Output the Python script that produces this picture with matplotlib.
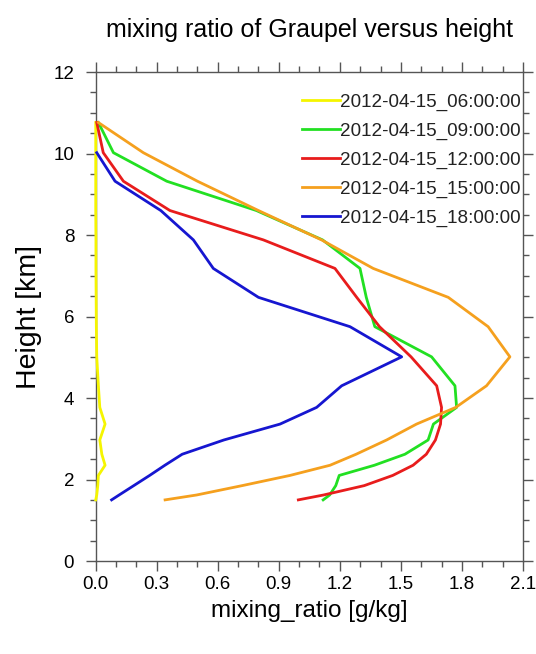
import numpy as np
import matplotlib
matplotlib.use('Agg')
import matplotlib.pyplot as plt
from matplotlib.ticker import MultipleLocator

plt.rcParams['font.family'] = ['Liberation Sans', 'DejaVu Sans']

# model levels [km] and graupel mixing ratio [g/kg]
height = [1.50, 1.62, 1.85, 2.10, 2.35, 2.62, 2.97, 3.36, 3.77, 4.30,
          5.01, 5.75, 6.47, 7.18, 7.88, 8.60, 9.32, 10.02, 10.76]

qg_06 = [0.000, 0.005, 0.010, 0.013, 0.046, 0.030, 0.020, 0.046, 0.020, 0.013,
         0.005, 0.003, 0.002, 0.001, 0.001, 0.000, 0.000, 0.000, 0.000]
qg_09 = [1.118, 1.150, 1.180, 1.197, 1.370, 1.520, 1.634, 1.660, 1.774, 1.766,
         1.651, 1.372, 1.330, 1.299, 1.115, 0.790, 0.349, 0.087, 0.013]
qg_12 = [0.996, 1.120, 1.320, 1.460, 1.560, 1.625, 1.670, 1.695, 1.700, 1.676,
         1.550, 1.395, 1.283, 1.176, 0.824, 0.365, 0.136, 0.037, 0.005]
qg_15 = [0.341, 0.496, 0.720, 0.955, 1.152, 1.280, 1.430, 1.577, 1.770, 1.921,
         2.036, 1.929, 1.733, 1.364, 1.110, 0.800, 0.500, 0.234, 0.013]
qg_18 = [0.078, 0.115, 0.187, 0.265, 0.340, 0.425, 0.630, 0.906, 1.086, 1.209,
         1.504, 1.250, 0.800, 0.578, 0.480, 0.320, 0.095, 0.005, np.nan]

labels = ['2012-04-15_06:00:00', '2012-04-15_09:00:00', '2012-04-15_12:00:00',
          '2012-04-15_15:00:00', '2012-04-15_18:00:00']
colors = ['#f5f500', '#22e022', '#e81c1c', '#f5a01e', '#1616d0']

fig = plt.figure(figsize=(5.36, 6.54), dpi=100)
ax = fig.add_axes([0.1786, 0.1422, 0.797, 0.7477])

for q, lab, c in zip([qg_06, qg_09, qg_12, qg_15, qg_18], labels, colors):
    ax.plot(q, height, color=c, lw=2.0, label=lab, clip_on=False, zorder=3)

ax.set_xlim(0, 2.1)
ax.set_ylim(0, 12)
ax.xaxis.set_minor_locator(MultipleLocator(0.1))
ax.yaxis.set_major_locator(MultipleLocator(2))
ax.yaxis.set_minor_locator(MultipleLocator(0.5))
xt = np.arange(0, 2.11, 0.3)
ax.set_xticks(xt)
ax.set_xticklabels(['%.1f' % v for v in xt])

ax.tick_params(which='both', direction='out', top=True, right=True,
               color='#555555', width=1.0, labelsize=13.5)
ax.tick_params(axis='x', pad=3)
ax.tick_params(axis='y', pad=8)
ax.tick_params(which='major', length=7.5)
ax.tick_params(which='minor', length=4)
for s in ax.spines.values():
    s.set_color('#555555')
    s.set_linewidth(1.0)

ax.set_title('mixing ratio of Graupel versus height', fontsize=18, pad=25)
ax.set_xlabel('mixing_ratio [g/kg]', fontsize=17.5, labelpad=5)
ax.set_ylabel('Height [km]', fontsize=20.5, labelpad=8)

leg = ax.legend(loc='upper right', frameon=False, fontsize=13.6,
                handlelength=2.0, handletextpad=0.0, labelspacing=0.62,
                borderaxespad=0.1, bbox_to_anchor=(1.016, 0.976))
for t in leg.get_texts():
    t.set_color('#222222')

fig.savefig('out.png', dpi=100)
